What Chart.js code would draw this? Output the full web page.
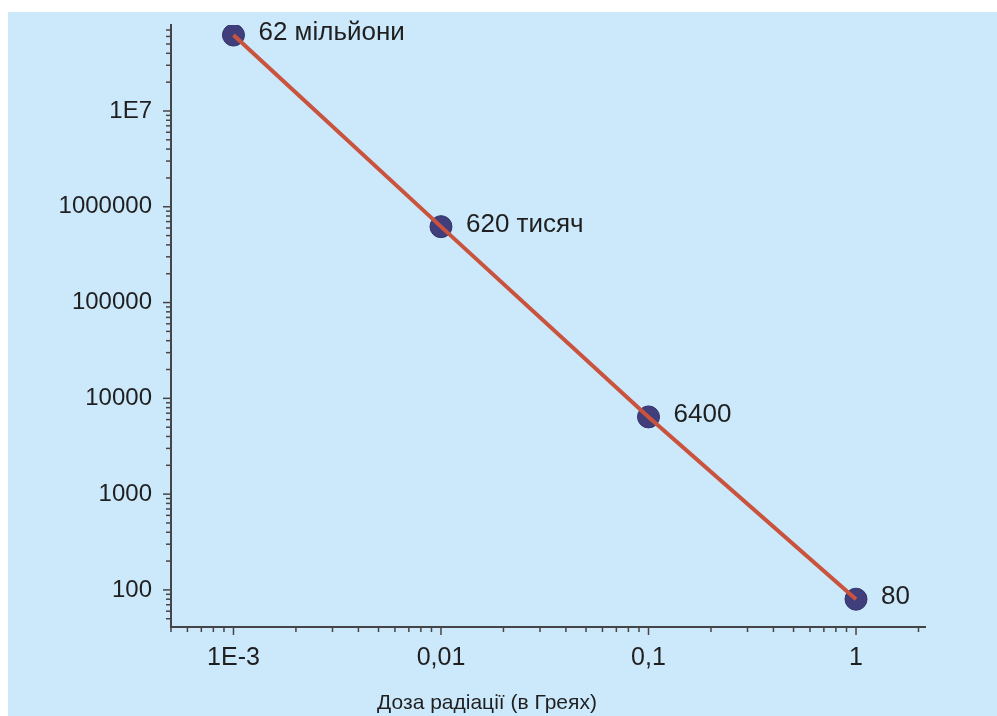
<!DOCTYPE html>
<html>
<head>
<meta charset="utf-8">
<script src="https://cdn.jsdelivr.net/npm/chart.js@4.4.1/dist/chart.umd.min.js"></script>
<style>
  html, body { margin: 0; padding: 0; background: #ffffff; }
  #wrap { width: 997px; height: 716px; }
</style>
</head>
<body>
<div id="wrap"><canvas id="chart" width="997" height="716"></canvas></div>
<script>
// dose in Gy vs. value
const doses = [0.001, 0.01, 0.1, 1];
const counts = [62000000, 620000, 6400, 80];
const pointLabels = ["62 мільйони", "620 тисяч", "6400", "80"];

const xTickValues = [0.001, 0.01, 0.1, 1];
const xTickLabels = ["1E-3", "0,01", "0,1", "1"];
const yTickValues = [100, 1000, 10000, 100000, 1000000, 10000000];
const yTickLabels = ["100", "1000", "10000", "100000", "1000000", "1E7"];

const xTitle = "Доза радіації (в Греях)";

const BG = "#cce9fb";
const TEXT = "#1f1f1f";
const AXIS = "#454545";
const FONT = "'Liberation Sans', Arial, sans-serif";

// 1..9 x 10^k ticks inside the axis range
function logTicks(min, max) {
  const out = [];
  for (let e = Math.floor(Math.log10(min)); e <= Math.ceil(Math.log10(max)); e++) {
    for (let s = 1; s <= 9; s++) {
      const v = +(s * Math.pow(10, e)).toPrecision(6);
      if (v >= min && v <= max) out.push({ value: v });
    }
  }
  return out;
}

function isMajor(v) {
  const l = Math.log10(v);
  return Math.abs(l - Math.round(l)) < 1e-6;
}

function labelFor(values, labels, v) {
  const i = values.findIndex((t) => Math.abs(t - v) / t < 1e-6);
  return i >= 0 ? labels[i] : "";
}

const bgPlugin = {
  id: "bg",
  beforeDraw(chart) {
    const ctx = chart.ctx;
    ctx.save();
    ctx.fillStyle = "#ffffff";
    ctx.fillRect(0, 0, chart.width, chart.height);
    ctx.fillStyle = BG;
    ctx.fillRect(8, 12, chart.width - 8, chart.height - 12);
    ctx.restore();
  },
};

const tickPlugin = {
  id: "tickMarks",
  afterDraw(chart) {
    const ctx = chart.ctx;
    const xs = chart.scales.x;
    const ys = chart.scales.y;
    ctx.save();
    ctx.strokeStyle = AXIS;
    ctx.lineWidth = 1.5;
    ys.ticks.forEach((t) => {
      const y = ys.getPixelForValue(t.value);
      const len = isMajor(t.value) ? 8 : 5;
      ctx.beginPath();
      ctx.moveTo(ys.right, y);
      ctx.lineTo(ys.right - len, y);
      ctx.stroke();
    });
    xs.ticks.forEach((t) => {
      const x = xs.getPixelForValue(t.value);
      const len = isMajor(t.value) ? 8 : 5;
      ctx.beginPath();
      ctx.moveTo(x, xs.top);
      ctx.lineTo(x, xs.top + len);
      ctx.stroke();
    });
    ctx.restore();
  },
};

const labelPlugin = {
  id: "pointLabels",
  afterDatasetsDraw(chart) {
    const ctx = chart.ctx;
    const meta = chart.getDatasetMeta(1);
    ctx.save();
    ctx.fillStyle = TEXT;
    ctx.font = "26px " + FONT;
    ctx.textAlign = "left";
    ctx.textBaseline = "middle";
    meta.data.forEach((pt, i) => {
      ctx.fillText(pointLabels[i], pt.x + 25, pt.y - 2);
    });
    // axis title
    ctx.font = "21px " + FONT;
    ctx.textAlign = "center";
    ctx.textBaseline = "alphabetic";
    ctx.fillText(xTitle, 487, 709);
    ctx.restore();
  },
};

function noPad(s) {
  s.paddingTop = 0;
  s.paddingBottom = 0;
  s.paddingLeft = 0;
  s.paddingRight = 0;
}

new Chart(document.getElementById("chart"), {
  type: "scatter",
  data: {
    datasets: [
      {
        type: "line",
        data: doses.map((d, i) => ({ x: d, y: counts[i] })),
        borderColor: "#c9533d",
        borderWidth: 4,
        pointRadius: 0,
        fill: false,
        tension: 0,
        order: 1,
      },
      {
        data: doses.map((d, i) => ({ x: d, y: counts[i] })),
        backgroundColor: "#403e7b",
        borderColor: "#36356c",
        borderWidth: 1,
        pointRadius: 11,
        order: 2,
      },
    ],
  },
  options: {
    responsive: false,
    animation: false,
    events: [],
    layout: { padding: { top: 25, right: 72, left: 0, bottom: 0 } },
    plugins: {
      legend: { display: false },
      tooltip: { enabled: false },
      title: { display: false },
    },
    scales: {
      x: {
        type: "logarithmic",
        min: 0.0005,
        max: 2.15,
        afterBuildTicks: (s) => { s.ticks = logTicks(s.min, s.max); },
        afterFit: (s) => { s.height = 89; noPad(s); },
        grid: { display: false, drawTicks: false },
        border: { display: true, color: AXIS, width: 2 },
        ticks: {
          autoSkip: false,
          maxRotation: 0,
          minRotation: 0,
          padding: 16,
          color: TEXT,
          font: { family: FONT, size: 25 },
          callback: (v) => labelFor(xTickValues, xTickLabels, v),
        },
      },
      y: {
        type: "logarithmic",
        min: 41,
        max: 79000000,
        afterBuildTicks: (s) => { s.ticks = logTicks(s.min, s.max); },
        afterFit: (s) => { s.width = 171; noPad(s); },
        grid: { display: false, drawTicks: false },
        border: { display: true, color: AXIS, width: 2 },
        ticks: {
          autoSkip: false,
          padding: 19,
          color: TEXT,
          font: { family: FONT, size: 24 },
          callback: (v) => labelFor(yTickValues, yTickLabels, v),
        },
      },
    },
  },
  plugins: [bgPlugin, tickPlugin, labelPlugin],
});
</script>
</body>
</html>
